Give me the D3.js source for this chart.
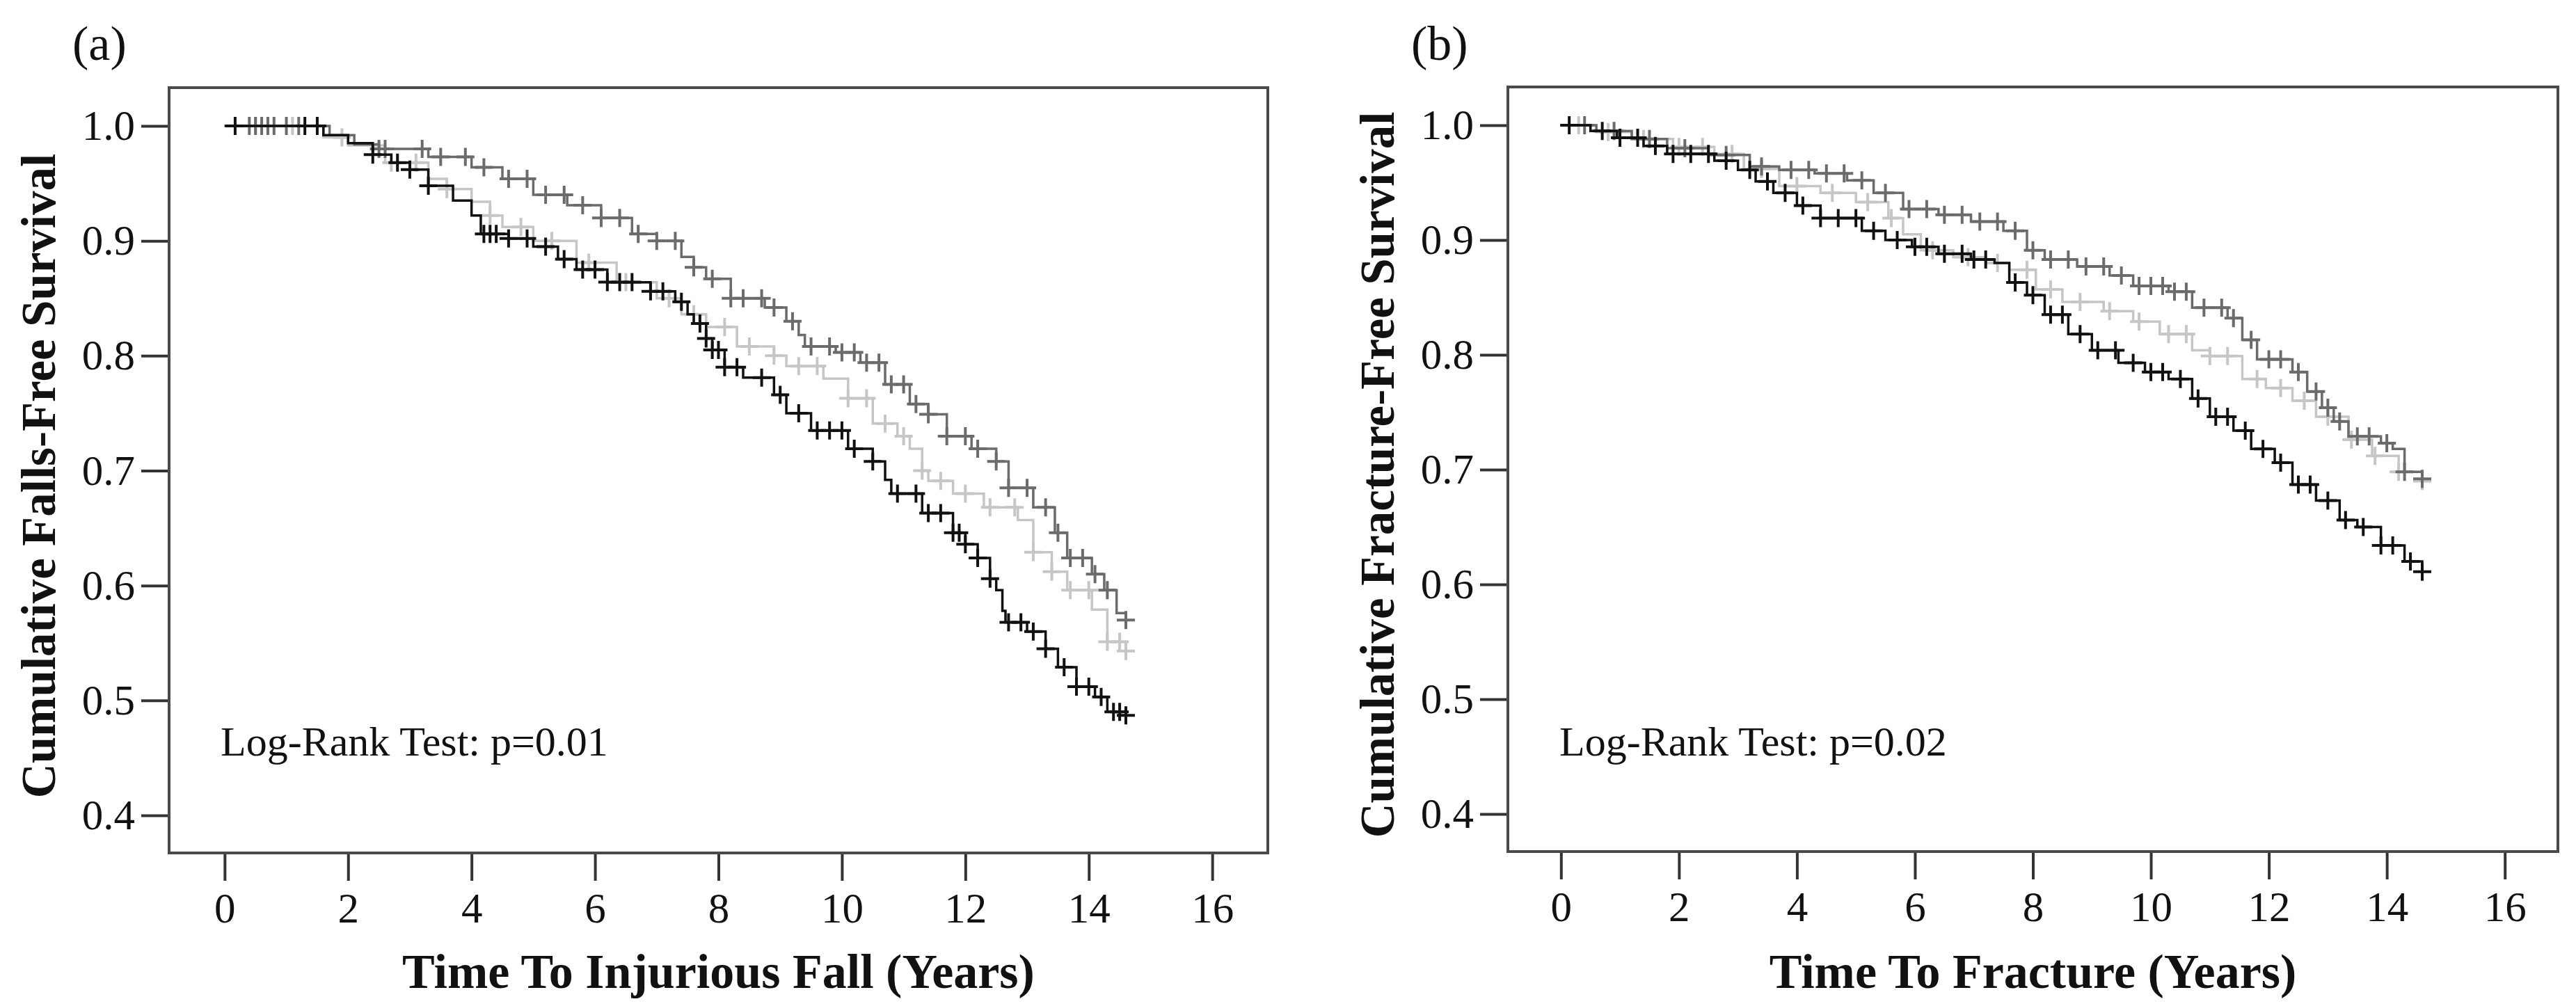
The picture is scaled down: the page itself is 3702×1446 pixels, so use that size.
<!DOCTYPE html>
<html>
<head>
<meta charset="utf-8">
<script src="https://cdn.jsdelivr.net/npm/d3@7"></script>
<style>
  html, body { margin: 0; padding: 0; background: #fff; }
  svg { display: block; }
</style>
</head>
<body>
<div id="chart"></div>
<script>
// ---- Data ----

// Axis ticks
const xTicks = [0, 2, 4, 6, 8, 10, 12, 14, 16];
const yTicks = [0.4, 0.5, 0.6, 0.7, 0.8, 0.9, 1.0];

// Panel (a): Injurious fall, Kaplan-Meier knots [years, survival]
const fallBlack = [[0,1],[1.2,1.0],[1.6,0.992],[2.0,0.985],[2.4,0.975],[2.7,0.968],[3.0,0.962],[3.3,0.948],[3.7,0.935],[4.0,0.922],[4.15,0.906],[4.6,0.902],[5.0,0.895],[5.4,0.884],[5.7,0.875],[6.2,0.864],[6.9,0.856],[7.3,0.847],[7.5,0.836],[7.6,0.828],[7.8,0.815],[7.9,0.805],[8.1,0.79],[8.4,0.781],[8.9,0.766],[9.1,0.75],[9.5,0.735],[10.1,0.719],[10.5,0.708],[10.7,0.692],[10.8,0.68],[11.3,0.663],[11.8,0.646],[12.0,0.636],[12.2,0.624],[12.4,0.606],[12.5,0.596],[12.6,0.578],[12.65,0.568],[13.0,0.56],[13.3,0.545],[13.5,0.529],[13.8,0.512],[14.1,0.503],[14.3,0.49],[14.6,0.487]];
const fallDark = [[0,1],[1.3,1.0],[1.7,0.992],[2.1,0.984],[2.5,0.98],[3.3,0.973],[4.0,0.964],[4.5,0.954],[5.0,0.94],[5.55,0.931],[6.1,0.92],[6.6,0.906],[7.0,0.9],[7.4,0.886],[7.6,0.877],[7.8,0.867],[8.2,0.85],[8.75,0.842],[9.1,0.83],[9.3,0.818],[9.4,0.808],[9.9,0.803],[10.3,0.794],[10.7,0.775],[11.1,0.758],[11.4,0.749],[11.7,0.73],[12.1,0.719],[12.5,0.708],[12.7,0.685],[13.1,0.668],[13.45,0.646],[13.65,0.624],[14.05,0.61],[14.25,0.596],[14.45,0.576],[14.6,0.57]];
const fallLight = [[0,1],[1.2,1.0],[1.6,0.99],[2.0,0.983],[2.6,0.968],[3.3,0.954],[3.6,0.945],[4.0,0.934],[4.3,0.922],[4.5,0.912],[5.0,0.9],[5.7,0.881],[6.35,0.864],[7.0,0.85],[7.4,0.836],[7.8,0.825],[8.3,0.808],[8.9,0.8],[9.1,0.791],[9.7,0.78],[10.1,0.763],[10.5,0.741],[10.9,0.73],[11.1,0.719],[11.3,0.7],[11.4,0.691],[11.8,0.68],[12.3,0.668],[12.85,0.657],[13.1,0.629],[13.4,0.612],[13.65,0.596],[14.05,0.579],[14.3,0.551],[14.6,0.543]];

// Panel (a): censoring times
const fallBlackCens = [0.17,1.3,1.5,2.4,2.8,3.0,3.3,4.2,4.3,4.4,4.6,4.9,5.2,5.5,5.8,6.0,6.2,6.4,6.6,6.9,7.1,7.4,7.7,7.8,7.9,8.0,8.1,8.3,8.7,9.0,9.3,9.6,9.8,10.0,10.2,10.5,10.9,11.2,11.4,11.6,11.8,11.9,12.0,12.2,12.4,12.7,12.9,13.1,13.3,13.6,13.8,14.0,14.2,14.4,14.5,14.6];
const fallDarkCens = [0.4,0.5,0.6,0.7,0.8,1.0,1.2,2.5,2.6,3.2,3.5,3.9,4.2,4.6,4.9,5.2,5.5,5.8,6.1,6.4,6.7,7.0,7.3,7.6,7.9,8.2,8.4,8.7,8.9,9.2,9.5,9.8,10.0,10.2,10.4,10.6,10.8,11.0,11.2,11.4,11.7,12.0,12.2,12.5,12.7,13.0,13.3,13.5,13.7,13.9,14.1,14.3,14.6];
const fallLightCens = [0.5,1.1,1.9,2.7,3.1,3.6,4.3,4.8,5.3,5.9,6.5,7.2,7.6,8.1,8.5,8.9,9.3,9.6,10.1,10.4,10.7,11.0,11.3,11.6,12.0,12.4,12.8,13.1,13.4,13.7,14.0,14.3,14.5,14.6];

// Panel (b): Fracture, Kaplan-Meier knots [years, survival]
const fracBlack = [[0,1],[0.5,0.995],[0.95,0.989],[1.4,0.982],[1.8,0.975],[2.6,0.969],[3.0,0.961],[3.3,0.951],[3.6,0.941],[4.0,0.93],[4.4,0.919],[5.1,0.908],[5.5,0.9],[5.95,0.894],[6.4,0.888],[6.95,0.883],[7.35,0.88],[7.6,0.863],[7.9,0.852],[8.2,0.835],[8.6,0.818],[9.0,0.804],[9.45,0.793],[9.9,0.785],[10.3,0.779],[10.7,0.762],[11.0,0.746],[11.4,0.734],[11.7,0.718],[12.1,0.706],[12.4,0.687],[12.8,0.673],[13.2,0.656],[13.5,0.65],[13.9,0.634],[14.3,0.62],[14.6,0.611]];
const fracDark = [[0,1],[0.6,0.995],[1.2,0.988],[1.8,0.98],[2.5,0.974],[3.2,0.964],[3.7,0.961],[4.3,0.958],[4.85,0.952],[5.3,0.941],[5.8,0.927],[6.4,0.922],[6.95,0.916],[7.5,0.908],[7.9,0.891],[8.2,0.883],[8.75,0.877],[9.3,0.869],[9.7,0.86],[10.3,0.855],[10.7,0.841],[11.3,0.832],[11.55,0.813],[11.8,0.796],[12.4,0.785],[12.65,0.768],[12.9,0.754],[13.1,0.742],[13.35,0.729],[13.9,0.723],[14.1,0.718],[14.3,0.698],[14.6,0.692]];
const fracLight = [[0,1],[0.6,0.994],[1.2,0.988],[1.9,0.981],[2.6,0.975],[3.1,0.962],[3.7,0.947],[4.4,0.941],[5.0,0.933],[5.55,0.919],[5.8,0.905],[6.1,0.891],[6.65,0.885],[7.2,0.88],[7.6,0.874],[8.05,0.857],[8.5,0.846],[9.2,0.838],[9.7,0.829],[10.15,0.818],[10.7,0.804],[11.0,0.799],[11.55,0.779],[11.95,0.771],[12.4,0.76],[12.8,0.746],[13.35,0.726],[13.75,0.712],[14.2,0.698],[14.6,0.69]];

// Panel (b): censoring times
const fracBlackCens = [0.14,0.7,1.0,1.3,1.6,1.9,2.2,2.5,2.8,3.2,3.5,3.8,4.1,4.4,4.7,5.0,5.3,5.7,6.0,6.2,6.5,6.8,7.0,7.2,7.7,8.0,8.3,8.5,8.8,9.1,9.4,9.7,10.0,10.2,10.5,10.8,11.1,11.3,11.6,11.9,12.2,12.5,12.7,13.0,13.3,13.6,13.9,14.1,14.4,14.6];
const fracDarkCens = [0.4,0.9,1.5,2.1,2.8,3.4,3.9,4.2,4.5,4.8,5.1,5.5,5.9,6.2,6.5,6.8,7.1,7.4,7.7,8.0,8.3,8.6,8.9,9.2,9.5,9.8,10.0,10.2,10.4,10.6,10.9,11.2,11.4,11.7,12.0,12.2,12.5,12.8,13.0,13.2,13.5,13.7,14.0,14.3,14.6];
const fracLightCens = [0.3,0.8,1.4,2.0,2.4,2.9,3.4,4.0,4.6,5.2,5.6,6.3,6.9,7.4,7.9,8.3,8.8,9.3,9.8,10.3,10.6,11.0,11.3,11.8,12.2,12.6,13.0,13.4,13.8,14.2,14.6];

// ---- Layout / style ----
const W = 3702, H = 1446;
const FONT = '"Liberation Serif", "Times New Roman", serif';
const COLORS = { light: '#c6c6c6', dark: '#6b6b6b', black: '#111111' };

const panels = [
  {
    tag: '(a)',
    box: { left: 243, right: 1822, top: 126, bottom: 1226 },
    yTitle: 'Cumulative Falls-Free Survival',
    xTitle: 'Time To Injurious Fall (Years)',
    note: 'Log-Rank Test: p=0.01',
    series: [
      { key: 'light', knots: fallLight, cens: fallLightCens },
      { key: 'dark', knots: fallDark, cens: fallDarkCens },
      { key: 'black', knots: fallBlack, cens: fallBlackCens }
    ]
  },
  {
    tag: '(b)',
    box: { left: 2167, right: 3676, top: 125, bottom: 1224 },
    yTitle: 'Cumulative Fracture-Free Survival',
    xTitle: 'Time To Fracture (Years)',
    note: 'Log-Rank Test: p=0.02',
    series: [
      { key: 'light', knots: fracLight, cens: fracLightCens },
      { key: 'dark', knots: fracDark, cens: fracDarkCens },
      { key: 'black', knots: fracBlack, cens: fracBlackCens }
    ]
  }
];

const svg = d3.select('#chart')
  .append('svg')
  .attr('width', W)
  .attr('height', H)
  .attr('viewBox', `0 0 ${W} ${H}`);

svg.append('rect')
  .attr('width', W)
  .attr('height', H)
  .attr('fill', '#fff');

/**
 * Survival value of a step function at time t
 */
function survivalAt(knots, t) {
  let v = knots[0][1];
  for (const [kt, kv] of knots) {
    if (kt <= t + 1e-9) v = kv;
  }
  return v;
}

/**
 * Draw one Kaplan-Meier panel
 */
function drawPanel(p) {
  const b = p.box;
  const x = d3.scaleLinear().domain([-0.9, 16.9]).range([b.left, b.right]);
  const y = d3.scaleLinear().domain([0.3673, 1.0333]).range([b.bottom, b.top]);

  const g = svg.append('g');

  // Panel tag
  g.append('text')
    .attr('x', b.left - 139)
    .attr('y', 86)
    .attr('font-family', FONT)
    .attr('font-size', '70px')
    .attr('fill', '#111')
    .text(p.tag);

  // Axes
  const xAxis = d3.axisBottom(x)
    .tickValues(xTicks)
    .tickSize(40)
    .tickPadding(17)
    .tickFormat(d3.format('d'));

  const yAxis = d3.axisLeft(y)
    .tickValues(yTicks)
    .tickSize(40)
    .tickPadding(9)
    .tickFormat(d3.format('.1f'));

  const xg = g.append('g')
    .attr('transform', `translate(0,${b.bottom})`)
    .call(xAxis);
  const yg = g.append('g')
    .attr('transform', `translate(${b.left},0)`)
    .call(yAxis);

  [xg, yg].forEach(ax => {
    ax.select('.domain').remove();
    ax.selectAll('line').attr('stroke', '#333').attr('stroke-width', 4);
    ax.selectAll('text')
      .attr('font-family', FONT)
      .attr('font-size', '61px')
      .attr('fill', '#111');
  });

  // Frame
  g.append('rect')
    .attr('x', b.left)
    .attr('y', b.top)
    .attr('width', b.right - b.left)
    .attr('height', b.bottom - b.top)
    .attr('fill', 'none')
    .attr('stroke', '#4a4a4a')
    .attr('stroke-width', 4);

  // Axis titles
  g.append('text')
    .attr('transform', `translate(${b.left - 164},${(b.top + b.bottom) / 2 + 8}) rotate(-90)`)
    .attr('text-anchor', 'middle')
    .attr('font-family', FONT)
    .attr('font-weight', 'bold')
    .attr('font-size', '69px')
    .attr('fill', '#111')
    .text(p.yTitle);

  g.append('text')
    .attr('x', (b.left + b.right) / 2)
    .attr('y', 1420)
    .attr('text-anchor', 'middle')
    .attr('font-family', FONT)
    .attr('font-weight', 'bold')
    .attr('font-size', '70px')
    .attr('fill', '#111')
    .text(p.xTitle);

  // Log-rank annotation
  g.append('text')
    .attr('x', b.left + 74)
    .attr('y', 1086)
    .attr('font-family', FONT)
    .attr('font-size', '60px')
    .attr('fill', '#111')
    .text(p.note);

  // Survival curves
  const line = d3.line()
    .x(d => x(d[0]))
    .y(d => y(d[1]))
    .curve(d3.curveStepAfter);

  p.series.forEach(s => {
    const col = COLORS[s.key];
    g.append('path')
      .datum(s.knots)
      .attr('d', line)
      .attr('fill', 'none')
      .attr('stroke', col)
      .attr('stroke-width', 3.5);

    // Censor marks (+)
    g.append('g')
      .selectAll('path')
      .data(s.cens)
      .join('path')
      .attr('transform', d => `translate(${x(d)},${y(survivalAt(s.knots, d))})`)
      .attr('d', 'M-13,0H13M0,-13V13')
      .attr('fill', 'none')
      .attr('stroke', col)
      .attr('stroke-width', 4);
  });
}

panels.forEach(drawPanel);
</script>
</body>
</html>
